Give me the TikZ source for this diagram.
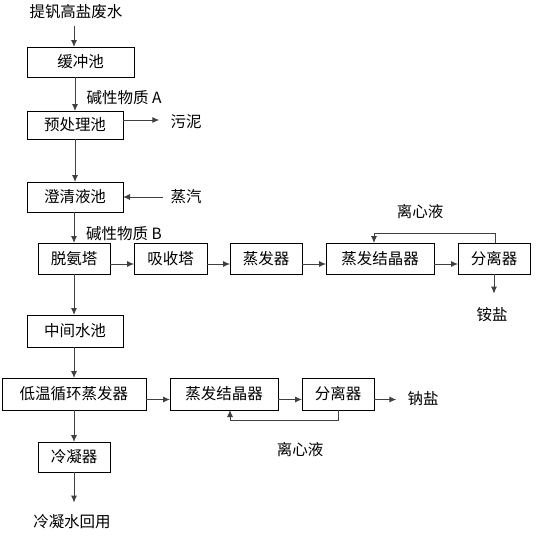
\documentclass[tikz,border=0pt]{standalone}
\usepackage{fontspec}
\newfontfamily\cjk{Noto Sans CJK SC}
\usetikzlibrary{arrows.meta,calc}
\begin{document}
\begin{tikzpicture}[x=1pt,y=-1pt,
  font=\cjk\fontsize{15.5}{18}\selectfont,
  box/.style={draw=black,line width=0.8pt,inner sep=0pt,outer sep=0pt,minimum height=31pt},
  lbl/.style={inner sep=1pt},
  arr/.style={draw=black!75,line width=0.9pt,-{Latex[length=7pt,width=6pt]}}]
\useasboundingbox (0,0) rectangle (536,536);
% boxes
\node[box,minimum width=107pt,minimum height=30pt] (hc) at (80.5,62) {缓冲池};
\node[box,minimum width=96pt,minimum height=28pt] (yc) at (75,125) {预处理池};
\node[box,minimum width=96pt,minimum height=30pt] (cq) at (75,197) {澄清液池};
\node[box,minimum width=72pt] (ta) at (74,258.5) {脱氨塔};
\node[box,minimum width=73pt] (xs) at (170.5,258.5) {吸收塔};
\node[box,minimum width=72pt] (zf) at (266,258.5) {蒸发器};
\node[box,minimum width=108pt] (jj1) at (380,258.5) {蒸发结晶器};
\node[box,minimum width=72pt] (fl1) at (494,258.5) {分离器};
\node[box,minimum width=96pt,minimum height=32pt] (zj) at (75,331) {中间水池};
\node[box,minimum width=144pt,minimum height=32pt] (dw) at (74,394) {低温循环蒸发器};
\node[box,minimum width=108pt,minimum height=32pt] (jj2) at (224,394) {蒸发结晶器};
\node[box,minimum width=72pt,minimum height=32pt] (fl2) at (338,394) {分离器};
\node[box,minimum width=72pt,minimum height=30pt] (ln) at (74,457) {冷凝器};
% text labels
\node[lbl] (src) at (76,12) {提钒高盐废水};
\node[lbl] (lA) at (124,98) {碱性物质 A};
\node[lbl] (wn) at (186,122) {污泥};
\node[lbl] (zq) at (186,197) {蒸汽};
\node[lbl] (lB) at (124,234) {碱性物质 B};
\node[lbl] (lx1) at (420,212) {离心液};
\node[lbl] (ay) at (492,315) {铵盐};
\node[lbl] (ny) at (423,399) {钠盐};
\node[lbl] (lx2) at (300,450) {离心液};
\node[lbl] (hy) at (72,522) {冷凝水回用};
% arrows
\draw[arr] (74,26) -- (hc.north -| 74,0);
\draw[arr] (hc.south -| yc.north) -- (yc.north);
\draw[arr] ([yshift=5pt]yc.east) -- ([yshift=5pt]yc.east -| wn.west) [shorten >=10pt];
\draw[arr] (yc.south) -- (cq.north);
\draw[arr,shorten <=6pt] (zq.west) -- (cq.east);
\draw[arr] (cq.south -| ta.north) -- (ta.north);
\draw[arr] ([yshift=-5.5pt]ta.east) -- ([yshift=-5.5pt]xs.west);
\draw[arr] ([yshift=-5.5pt]xs.east) -- ([yshift=-5.5pt]zf.west);
\draw[arr] ([yshift=-5.5pt]zf.east) -- ([yshift=-5.5pt]jj1.west);
\draw[arr] ([yshift=-5.5pt]jj1.east) -- ([yshift=-5.5pt]fl1.west);
\draw[arr] ([xshift=1pt]fl1.north) |- ([xshift=-6pt,yshift=10pt]jj1.north) -- ([xshift=-6pt]jj1.north);
\draw[arr,shorten >=13pt] (fl1.south) -- (fl1.south |- ay.north);
\draw[arr] (ta.south) -- (ta.south |- zj.north);
\draw[arr] (zj.south -| dw.north) -- (dw.north);
\draw[arr] ([yshift=-5.5pt]dw.east) -- ([yshift=-5.5pt]jj2.west);
\draw[arr] ([yshift=-5.5pt]jj2.east) -- ([yshift=-5.5pt]fl2.west);
\draw[arr,shorten >=10pt] ([yshift=-5.5pt]fl2.east) -- ([yshift=-5.5pt]fl2.east -| ny.west);
\draw[arr] (fl2.south) |- ([xshift=6pt,yshift=-10pt]jj2.south) -- ([xshift=6pt]jj2.south);
\draw[arr] (dw.south) -- (ln.north);
\draw[arr,shorten >=11pt] (ln.south) -- (ln.south |- hy.north);
\end{tikzpicture}
\end{document}
